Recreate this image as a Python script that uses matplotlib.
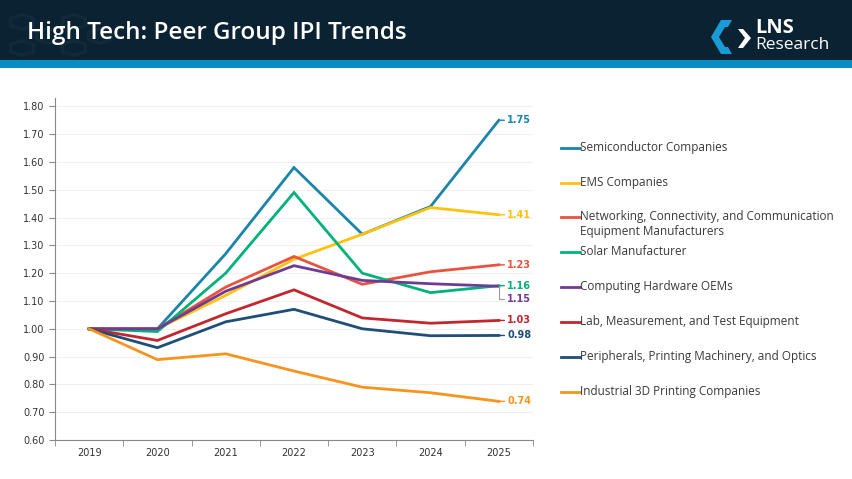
import matplotlib.pyplot as plt
import numpy as np
from matplotlib.lines import Line2D
from matplotlib.patches import Rectangle, Polygon, RegularPolygon

years = ['2019', '2020', '2021', '2022', '2023', '2024', '2025']

series_names = [
    'Semiconductor Companies',
    'EMS Companies',
    'Networking, Connectivity, and Communication\nEquipment Manufacturers',
    'Solar Manufacturer',
    'Computing Hardware OEMs',
    'Lab, Measurement, and Test Equipment',
    'Peripherals, Printing Machinery, and Optics',
    'Industrial 3D Printing Companies',
]

semiconductor = [1.00, 1.00, 1.27, 1.58, 1.34, 1.44, 1.75]
ems = [1.00, 1.00, 1.12, 1.25, 1.34, 1.436, 1.41]
networking = [1.00, 1.00, 1.15, 1.26, 1.16, 1.205, 1.23]
solar = [1.00, 0.99, 1.20, 1.49, 1.20, 1.13, 1.155]
computing = [1.00, 1.00, 1.135, 1.227, 1.174, 1.162, 1.153]
lab = [1.00, 0.958, 1.054, 1.14, 1.039, 1.02, 1.03]
peripherals = [1.00, 0.932, 1.025, 1.07, 1.00, 0.975, 0.976]
printing3d = [1.00, 0.889, 0.91, 0.848, 0.79, 0.77, 0.739]

end_labels = ['1.75', '1.41', '1.23', '1.16', '1.15', '1.03', '0.98', '0.74']

colors = ['#1a85aa', '#ffc20e', '#e8533f', '#00b27a', '#6e3c96',
          '#c1272d', '#1f4e79', '#f7941d']

all_series = [semiconductor, ems, networking, solar, computing, lab,
              peripherals, printing3d]


def fx(px):
    return px / 852


def fy(py):
    return 1 - py / 479


fig = plt.figure(figsize=(8.52, 4.79), dpi=100)
fig.patch.set_facecolor('white')

# header band
fig.add_artist(Rectangle((0, fy(60)), 1, 60 / 479, transform=fig.transFigure,
                         facecolor='#0b2232', edgecolor='none'))
# faint hexagons behind the title
for cx, cy in [(22, 22), (48, 36), (74, 22), (22, 48), (74, 48), (100, 36)]:
    fig.add_artist(RegularPolygon((fx(cx), fy(cy)), 6, radius=13 / 852,
                                  transform=fig.transFigure, facecolor='none',
                                  edgecolor='#112a3a', lw=2.5))
fig.add_artist(Rectangle((0, fy(68)), 1, 8 / 479, transform=fig.transFigure,
                         facecolor='#0a8cc0', edgecolor='none'))
fig.text(fx(27), fy(33), 'High Tech: Peer Group IPI Trends', color='white',
         fontsize=17.5, family='Open Sans', fontweight='semibold',
         va='center', ha='left')

# logo
bracket = [(732, 20), (721, 20), (711, 37), (721, 54), (732, 54), (728, 47),
           (725, 47), (719, 37), (725, 27), (728, 27)]
fig.add_artist(Polygon([(fx(a), fy(b)) for a, b in bracket], closed=True,
                       transform=fig.transFigure, facecolor='#1a9ad6', edgecolor='none'))
chev = [(738, 29), (743, 29), (751, 38), (743, 48), (738, 48), (745, 38)]
fig.add_artist(Polygon([(fx(a), fy(b)) for a, b in chev], closed=True,
                       transform=fig.transFigure, facecolor='white', edgecolor='none'))
fig.text(fx(755), fy(28), 'LNS', color='white', fontsize=14.5, fontweight='bold',
         family='Open Sans', va='center', ha='left')
fig.text(fx(755), fy(45), 'Research', color='white', fontsize=12.5,
         family='Open Sans', va='center', ha='left')

ax = fig.add_axes([fx(55), fy(440), (533 - 55) / 852, (440 - 98) / 479])
x = np.arange(len(years))
for vals, c in zip(all_series, colors):
    ax.plot(x, vals, color=c, lw=2.0, solid_joinstyle='miter')

ax.set_xlim(-0.5, len(years) - 0.5)
ax.set_ylim(0.6, 1.83)
yt = np.arange(0.6, 1.81, 0.1)
ax.set_yticks(yt)
ax.set_yticklabels(['%.2f' % v for v in yt])
ax.set_xticks(x)
ax.set_xticklabels(years)
ax.set_xticks(np.arange(-0.5, len(years), 1), minor=True)
ax.tick_params(axis='x', which='major', length=0, pad=6, labelsize=7)
ax.tick_params(axis='x', which='minor', length=4, color='#888888')
ax.tick_params(axis='y', length=4, color='#888888', labelsize=7)
for lab_ in ax.get_yticklabels() + ax.get_xticklabels():
    lab_.set_color('#333333')
ax.grid(axis='y', color='#f0f0f0', lw=0.8)
ax.set_axisbelow(True)
for s in ['top', 'right']:
    ax.spines[s].set_visible(False)
for s in ['left', 'bottom']:
    ax.spines[s].set_color('#888888')
    ax.spines[s].set_linewidth(0.8)

# end labels
for i, (vals, c, t) in enumerate(zip(all_series, colors, end_labels)):
    if i == 4:
        ax.annotate(t, xy=(x[-1], vals[-1]), xytext=(6, -9), textcoords='offset points',
                    color=c, fontsize=7, fontweight='bold', va='center', ha='left',
                    arrowprops=dict(arrowstyle='-', color='#999999', lw=0.8,
                                    shrinkA=0, shrinkB=0,
                                    connectionstyle='angle,angleA=0,angleB=90,rad=0'))
    else:
        ax.annotate(t, xy=(x[-1], vals[-1]), xytext=(6, 0), textcoords='offset points',
                    color=c, fontsize=7, fontweight='bold', va='center', ha='left',
                    arrowprops=dict(arrowstyle='-', color=c, lw=1.0,
                                    shrinkA=0, shrinkB=0))

# legend
legend_y = [148, 183, 217, 252, 287, 322, 357, 392]
for name, c, py in zip(series_names, colors, legend_y):
    fig.add_artist(Line2D([fx(561), fx(580)], [fy(py), fy(py)], color=c, lw=2,
                          transform=fig.transFigure))
    fig.text(fx(580), fy(py - 7), name, color='#3a3a3a', fontsize=8.5,
             family='Open Sans', va='top', ha='left', linespacing=1.25)

fig.savefig('out.png', dpi=100)
